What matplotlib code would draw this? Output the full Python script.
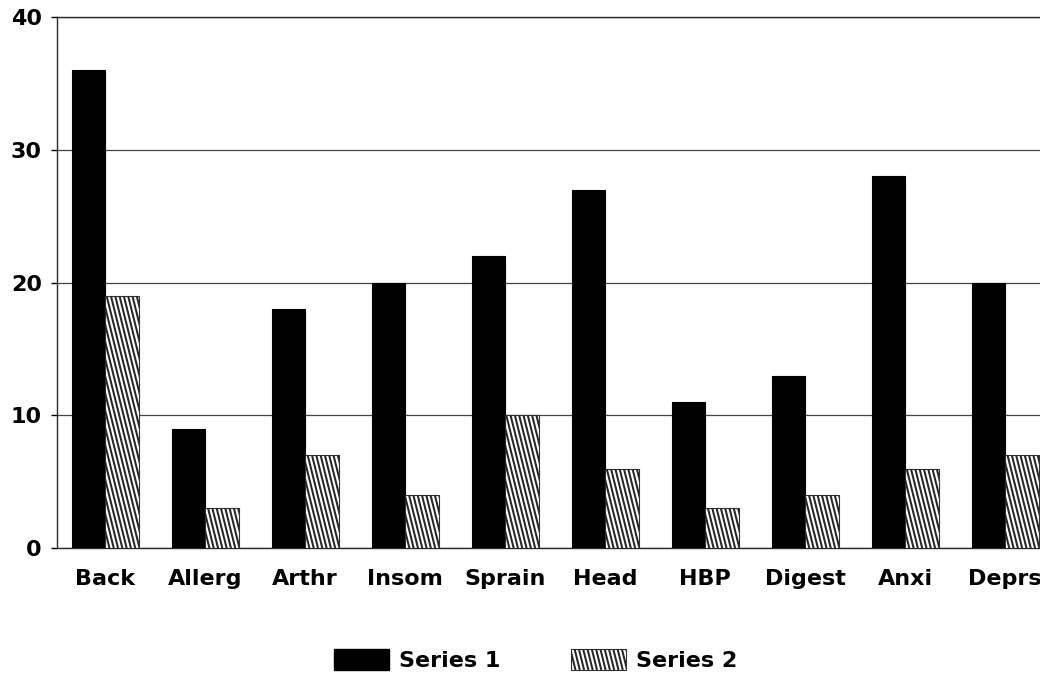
"""Grouped bar chart of two series across ten complaint categories"""
import numpy as np
import matplotlib
matplotlib.use("Agg")
import matplotlib.pyplot as plt
from matplotlib.collections import LineCollection
from matplotlib.legend_handler import HandlerPatch
from matplotlib.patches import Patch, Rectangle

categories = ["Back", "Allerg", "Arthr", "Insom", "Sprain",
              "Head", "HBP", "Digest", "Anxi", "Deprs"]
series1 = [36, 9, 18, 20, 22, 27, 11, 13, 28, 20]
series2 = [19, 3, 7, 4, 10, 6, 3, 4, 6, 7]
y_ticks = [0, 10, 20, 30, 40]

plt.rcParams["font.family"] = ["DejaVu Sans"]
plt.rcParams["font.weight"] = "bold"

BAR_W = 0.335
STRIPE_GAP_PX = 4.3   # horizontal distance between stripes
STRIPE_SLOPE = 4.0    # pixels down per pixel right
STRIPE_LW = 1.45


def stripe_segments(px0, py0, px1, py1):
    """Steep backslash segments covering a box given in pixels"""
    h = py1 - py0
    starts = np.arange(px0 - h / STRIPE_SLOPE - STRIPE_GAP_PX,
                       px1 + STRIPE_GAP_PX, STRIPE_GAP_PX)
    return [[(s, py1), (s + h / STRIPE_SLOPE, py0)] for s in starts]


def stripe_bar(ax, rect):
    """Fill a bar with stripes, clipped to the bar"""
    x0, y0 = rect.get_x(), rect.get_y()
    x1, y1 = x0 + rect.get_width(), y0 + rect.get_height()
    (px0, py0), (px1, py1) = ax.transData.transform([(x0, y0), (x1, y1)])
    lc = LineCollection(stripe_segments(px0, py0, px1, py1),
                        colors="#262626", linewidths=STRIPE_LW,
                        transform=None, zorder=3)
    ax.add_collection(lc)
    # clip after adding, otherwise the axes clip replaces it
    lc.set_clip_path(rect)


class StripedHandler(HandlerPatch):
    """Legend key drawn with the same stripes as the bars"""

    def create_artists(self, legend, orig_handle, xdescent, ydescent,
                       width, height, fontsize, trans):
        box = Rectangle((-xdescent, -ydescent), width, height,
                        facecolor="white", edgecolor="#333333",
                        linewidth=0.8, transform=trans)
        scale = legend.figure.dpi / 72.0
        w, h = width * scale, height * scale
        segs = stripe_segments(0, 0, w, h)
        segs = [[(a / scale - xdescent, b / scale - ydescent)
                 for a, b in seg] for seg in segs]
        lc = LineCollection(segs, colors="#262626", linewidths=STRIPE_LW,
                            transform=trans)
        lc.set_clip_path(box)
        return [box, lc]


fig = plt.figure(figsize=(10.4, 6.76), dpi=100)
ax = fig.add_axes([0.055, 0.189, 0.945, 0.786])

x = np.arange(len(categories))
ax.bar(x - BAR_W / 2, series1, BAR_W, color="black", edgecolor="black",
       linewidth=0.8, zorder=3)
bars2 = ax.bar(x + BAR_W / 2, series2, BAR_W, color="white",
               edgecolor="#333333", linewidth=0.8, zorder=3)

ax.set_xlim(-0.48, 9.35)
ax.set_ylim(0, 40)
ax.set_yticks(y_ticks)
ax.set_xticks(x, categories)
ax.yaxis.grid(True, color="#444444", linewidth=0.9)
ax.set_axisbelow(True)
ax.spines["right"].set_visible(False)
for side in ["left", "bottom", "top"]:
    ax.spines[side].set_color("#2a2a2a")
    ax.spines[side].set_linewidth(1.0)
ax.tick_params(axis="x", length=0, pad=15, labelsize=16)
ax.tick_params(axis="y", length=4, width=1, pad=7, labelsize=16)

for rect in bars2:
    stripe_bar(ax, rect)

s1_key = Patch(facecolor="black", edgecolor="black")
s2_key = Patch(facecolor="white", edgecolor="#333333")
fig.legend([s1_key, s2_key], ["Series 1", "Series 2"], loc="center",
           bbox_to_anchor=(0.515, 0.024), ncol=2, frameon=False,
           fontsize=16, handlelength=2.45, handleheight=1.1,
           handletextpad=0.45, columnspacing=3.2,
           handler_map={s2_key: StripedHandler()})

fig.savefig("out.png", dpi=100, facecolor="white")
